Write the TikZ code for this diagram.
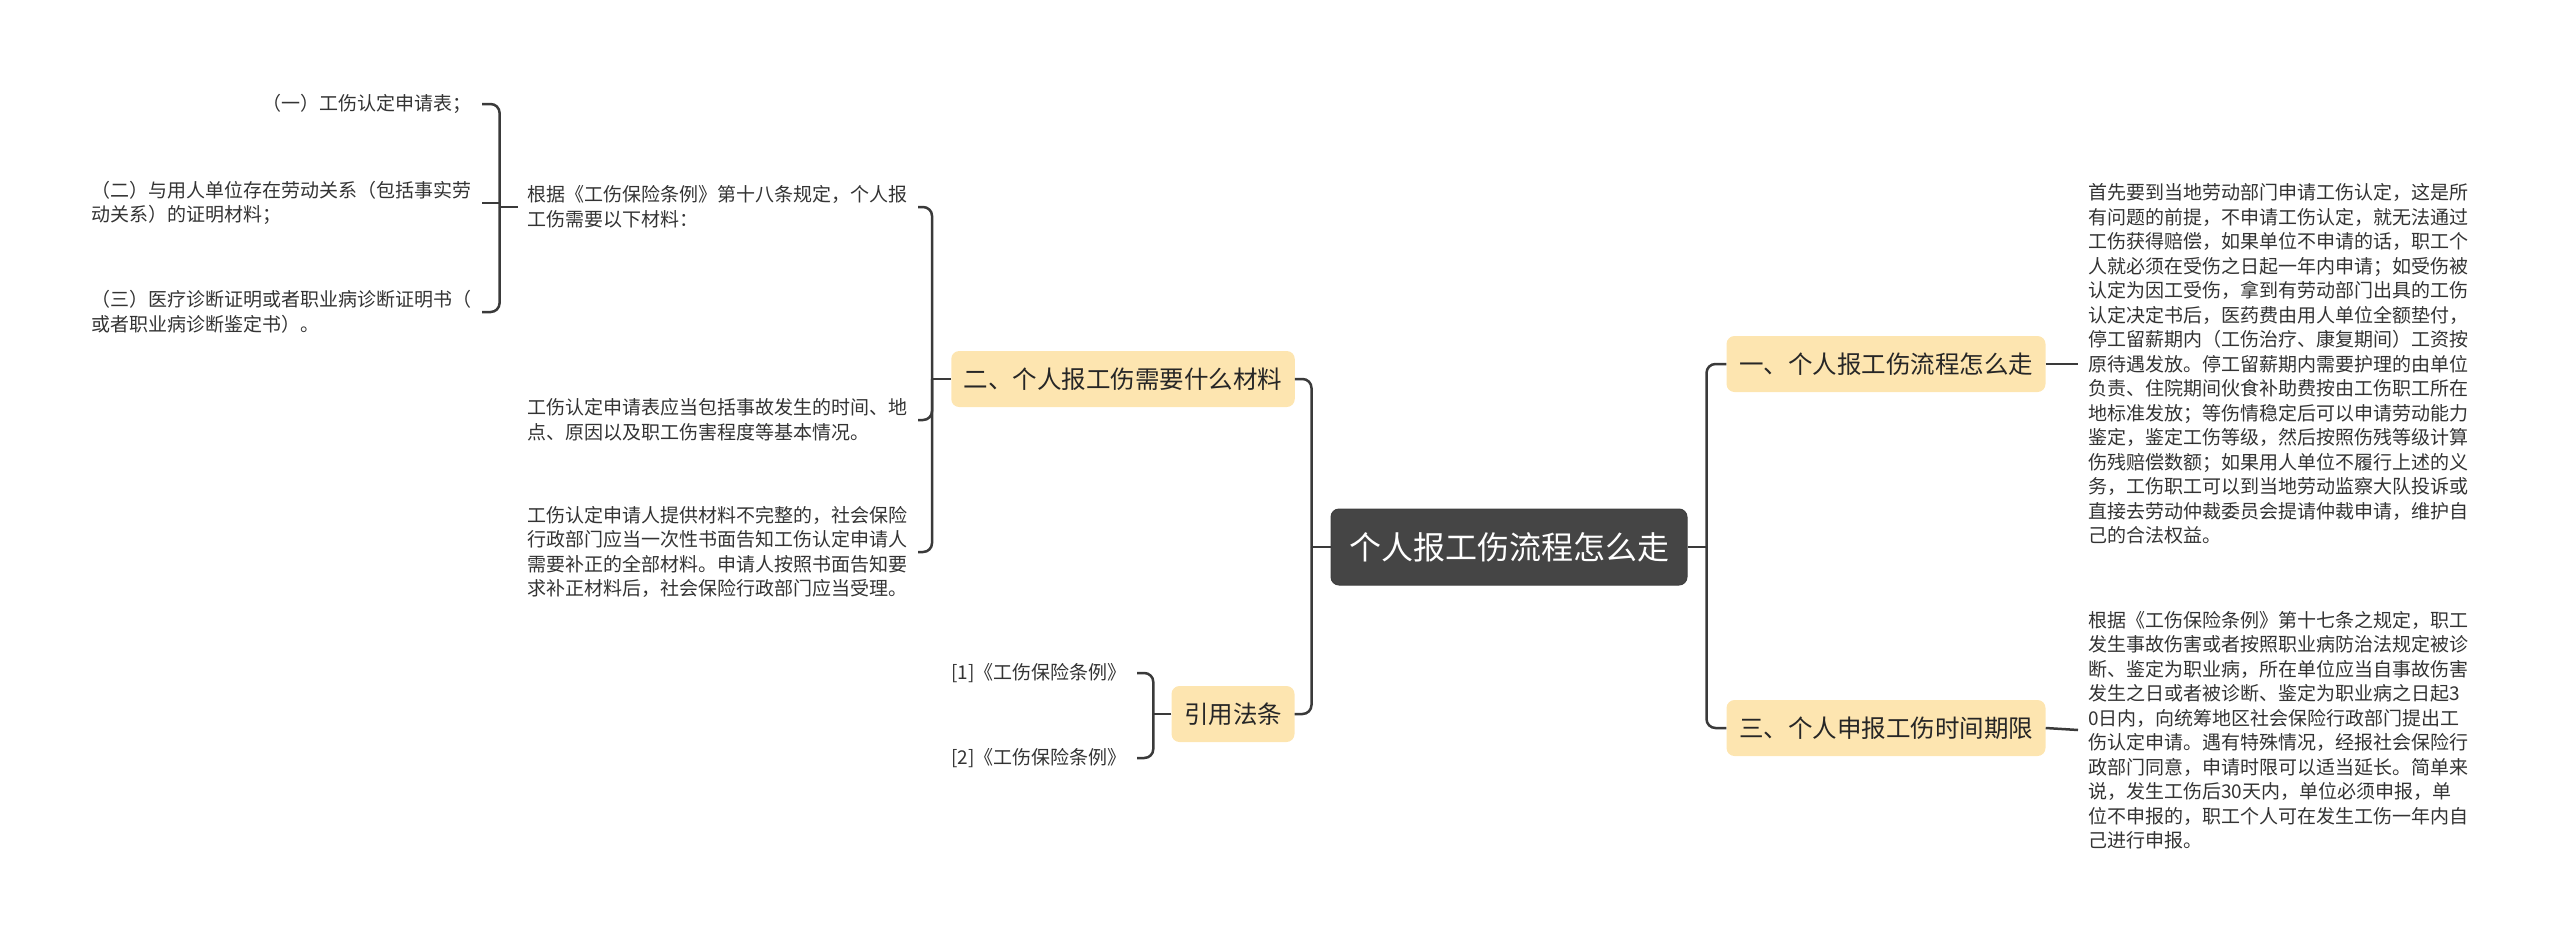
\documentclass[tikz,border=0pt]{standalone}
\usepackage{fontspec}
\setmainfont{Noto Sans CJK SC}
\definecolor{linec}{HTML}{3A3A3A}
\definecolor{nodey}{HTML}{FDE5B0}
\definecolor{cent}{HTML}{454545}
\definecolor{txt}{HTML}{333333}
\begin{document}
\begin{tikzpicture}[x=1pt,y=-1pt,
  conn/.style={draw=linec,line width=2.5pt,rounded corners=9pt},
  topic/.style={fill=nodey,rounded corners=8pt,inner xsep=12.5pt,inner ysep=0pt,minimum height=56pt,text=black!85,font=\fontsize{24.5}{29}\selectfont},
  root/.style={fill=cent,draw=black!75,line width=1pt,rounded corners=8pt,inner xsep=18pt,inner ysep=0pt,minimum height=76pt,text=white,font=\fontsize{32}{38}\selectfont},
  leaf/.style={align=left,inner xsep=10pt,inner ysep=2pt,text=txt,font=\fontsize{19}{24.5}\selectfont}]
\useasboundingbox (0,0) rectangle (2560,943);

% main nodes
\node[root] (c) at (1509,547) {个人报工伤流程怎么走};
\node[topic] (n1) at (1886,364) {一、个人报工伤流程怎么走};
\node[topic] (n3) at (1886,728) {三、个人申报工伤时间期限};
\node[topic] (n2) at (1123,379) {二、个人报工伤需要什么材料};
\node[topic] (cite) at (1233,714) {引用法条};

% right leaves
\node[leaf,anchor=west] (r1) at (2078,364) {首先要到当地劳动部门申请工伤认定，这是所\\有问题的前提，不申请工伤认定，就无法通过\\工伤获得赔偿，如果单位不申请的话，职工个\\人就必须在受伤之日起一年内申请；如受伤被\\认定为因工受伤，拿到有劳动部门出具的工伤\\认定决定书后，医药费由用人单位全额垫付，\\停工留薪期内（工伤治疗、康复期间）工资按\\原待遇发放。停工留薪期内需要护理的由单位\\负责、住院期间伙食补助费按由工伤职工所在\\地标准发放；等伤情稳定后可以申请劳动能力\\鉴定，鉴定工伤等级，然后按照伤残等级计算\\伤残赔偿数额；如果用人单位不履行上述的义\\务，工伤职工可以到当地劳动监察大队投诉或\\直接去劳动仲裁委员会提请仲裁申请，维护自\\己的合法权益。};
\node[leaf,anchor=west] (r3) at (2078,730) {根据《工伤保险条例》第十七条之规定，职工\\发生事故伤害或者按照职业病防治法规定被诊\\断、鉴定为职业病，所在单位应当自事故伤害\\发生之日或者被诊断、鉴定为职业病之日起3\\0日内，向统筹地区社会保险行政部门提出工\\伤认定申请。遇有特殊情况，经报社会保险行\\政部门同意，申请时限可以适当延长。简单来\\说，发生工伤后30天内，单位必须申报，单\\位不申报的，职工个人可在发生工伤一年内自\\己进行申报。};

% left leaves
\node[leaf,anchor=east] (l1) at (918,207) {根据《工伤保险条例》第十八条规定，个人报\\工伤需要以下材料：};
\node[leaf,anchor=east] (l2) at (918,420) {工伤认定申请表应当包括事故发生的时间、地\\点、原因以及职工伤害程度等基本情况。};
\node[leaf,anchor=east] (l3) at (918,552) {工伤认定申请人提供材料不完整的，社会保险\\行政部门应当一次性书面告知工伤认定申请人\\需要补正的全部材料。申请人按照书面告知要\\求补正材料后，社会保险行政部门应当受理。};

\node[leaf,anchor=east] (a1) at (482,104) {（一）工伤认定申请表；};
\node[leaf,anchor=east] (a2) at (482,203) {（二）与用人单位存在劳动关系（包括事实劳\\动关系）的证明材料；};
\node[leaf,anchor=east] (a3) at (482,312) {（三）医疗诊断证明或者职业病诊断证明书（\\或者职业病诊断鉴定书）。};

\node[leaf,anchor=east] (k1) at (1137,673) {[1]《工伤保险条例》};
\node[leaf,anchor=east] (k2) at (1137,758) {[2]《工伤保险条例》};

% junctions
\coordinate (jl) at ([xshift=-19pt]c.west);
\coordinate (jr) at ([xshift=19pt]c.east);
\coordinate (b2) at ([xshift=-19pt]n2.west);
\coordinate (b1) at ([xshift=-18pt]l1.west);
\coordinate (b3) at ([xshift=-18pt]cite.west);

% connectors
\draw[conn] (c.west) -- (jl);
\draw[conn] (n2.east) -| (jl);
\draw[conn] (cite.east) -| (jl);
\draw[conn] (c.east) -- (jr);
\draw[conn] (n1.west) -| (jr);
\draw[conn] (n3.west) -| (jr);
\draw[conn] (n1.east) -- (r1.west);
\draw[conn] (n3.east) -- (r3.west);

\draw[conn] (n2.west) -- (b2);
\draw[conn] (l1.east) -| (b2);
\draw[conn] (l2.east) -| (b2);
\draw[conn] (l3.east) -| (b2);

\draw[conn] (l1.west) -- (b1);
\draw[conn] (a1.east) -| (b1);
\draw[conn] (a2.east) -- (a2.east -| b1);
\draw[conn] (a3.east) -| (b1);

\draw[conn] (cite.west) -- (b3);
\draw[conn] (k1.east) -| (b3);
\draw[conn] (k2.east) -| (b3);
\end{tikzpicture}
\end{document}
